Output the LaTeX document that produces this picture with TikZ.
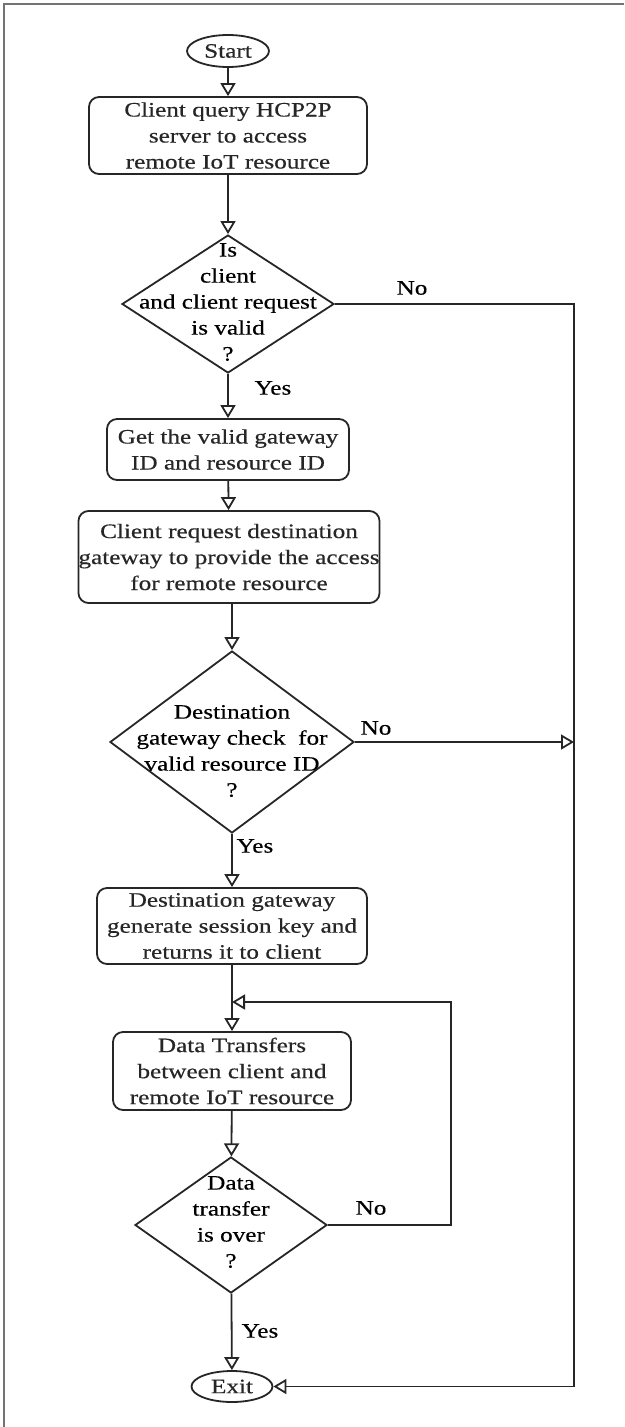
\documentclass[tikz,border=0pt]{standalone}
\usepackage{fontspec}
\setmainfont{Liberation Serif}[FakeStretch=1.23,FakeBold=0.4]
\usetikzlibrary{shapes.geometric,arrows.meta}
\begin{document}
\begin{tikzpicture}[x=1pt,y=-1pt,
  every node/.style={font=\fontsize{20.5pt}{26pt}\selectfont, inner sep=0pt, align=center},
  line/.style={line width=1.8pt, black!85},
  flow/.style={line, -{Triangle[open,length=13pt,width=15pt,line width=1.8pt]}},
  frame/.style={line width=1.6pt, black!55},
  terminal/.style={ellipse, draw, line, minimum width=82pt, minimum height=32pt},
  process/.style={draw, line, rounded corners=10pt},
  decision/.style={diamond, draw, line},
  tag/.style={}
]
\useasboundingbox (0,0) rectangle (624,1427);
\draw[frame] (4,1427) -- (4,4) -- (624,4);

% main column
\node[terminal] (start) at (228,51) {Start};
\node[process, minimum width=278pt, minimum height=77pt] (b1) at (228,135.5)
  {Client query HCP2P\\server to access\\remote IoT resource};
\node[decision, minimum width=212pt, minimum height=138pt] (d1) at (228,304) {};
\node (d1t) at (228,302) {Is\\client\\and client request\\is valid\\?};
\node[process, minimum width=242pt, minimum height=61pt] (b2) at (228,449.5)
  {Get the valid gateway\\ID and resource ID};
\node[process, minimum width=300pt, minimum height=92pt] (b3) at (229,557)
  {Client request destination\\gateway to provide the access\\for remote resource};
\node[decision, minimum width=244pt, minimum height=182pt] (d2) at (232,742) {};
\node (d2t) at (232,751) {Destination\\gateway check\ \ for\\valid resource ID\\?};
\node[process, minimum width=270pt, minimum height=76pt] (b5) at (232,926)
  {Destination gateway\\generate session key and\\returns it to client};
\node[process, minimum width=238pt, minimum height=78pt] (b4) at (232,1071)
  {Data Transfers\\between client and\\remote IoT resource};
\node[decision, minimum width=192pt, minimum height=136pt] (d3) at (231,1225) {};
\node (d3t) at (231,1222) {Data\\transfer\\is over\\?};
\node[terminal, minimum width=81pt, minimum height=31pt] (exit) at (232,1386.5) {Exit};

% helper points for the side lines
\coordinate (rail) at (574,0);
\coordinate (loopx) at (451,0);
\coordinate (join) at (232,1002);

% connectors
\draw[flow] (start) -- (b1);
\draw[flow] (b1) -- (d1);
\draw[flow] (d1) -- (b2);
\draw[flow] (b2) -- (b3);
\draw[flow] (b3.south -| d2.north) -- (d2);
\draw[flow] (d2) -- (b5);
\draw[flow] (b5) -- (b4);
\draw[flow] (b4) -- (d3);
\draw[flow] (d3) -- (exit);
\draw[flow] (d1.east) -- (d1.east -| rail) -- (exit.east -| rail) -- (exit.east);
\draw[flow] (d2.east) -- (d2.east -| rail);
\draw[flow] (d3.east) -- (d3.east -| loopx) -- (join -| loopx) -- (join);

% branch labels
\node[tag] (no1) at (412,288) {No};
\node[tag] (yes1) at (273,388) {Yes};
\node[tag] (no2) at (376,728) {No};
\node[tag] (yes2) at (255,846) {Yes};
\node[tag] (no3) at (371,1208) {No};
\node[tag] (yes3) at (260,1331) {Yes};
\end{tikzpicture}
\end{document}
